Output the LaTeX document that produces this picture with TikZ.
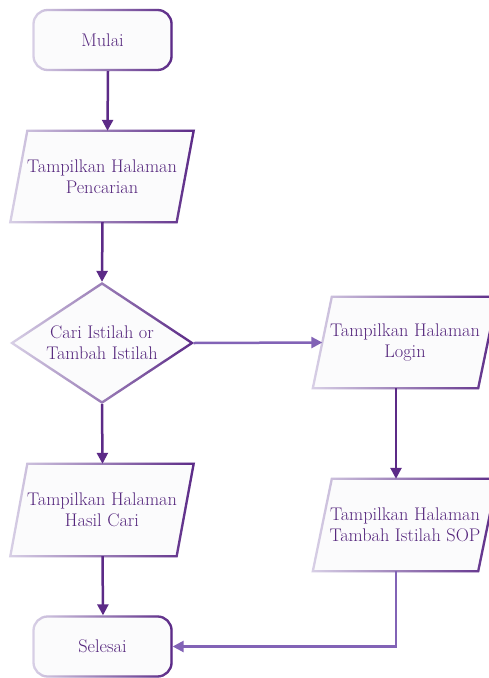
\documentclass[tikz,border=0pt]{standalone}
\usepackage{fontspec}
\usetikzlibrary{shapes.geometric,arrows.meta,fadings,calc,backgrounds}
\definecolor{dpur}{HTML}{5C2A87}
\definecolor{mpur}{HTML}{8263B6}
\definecolor{tpur}{HTML}{55267D}
\definecolor{lav}{HTML}{D8D0E6}
\definecolor{fillc}{HTML}{FBFBFC}
\tikzfading[name=fadeR, left color=transparent!100, right color=transparent!0]
\tikzset{
  txt/.style={font=\fontsize{18.3}{21}\selectfont, align=center, text=tpur},
  gbox/.style={fill=fillc, draw=lav, line width=2.3pt, line join=miter,
    postaction={draw=dpur, line width=2.3pt, path fading=fadeR}},
  term/.style={gbox, txt, rectangle, rounded corners=14pt, minimum width=138pt, minimum height=60pt, inner sep=0pt},
  io/.style={txt, rectangle, minimum width=183pt, minimum height=91pt, inner sep=0pt},
  dec/.style={gbox, diamond, aspect=1.508, minimum width=181pt, minimum height=120pt, inner sep=0pt},
  arr/.style={line width=2.5pt, dpur, -{Triangle[width=11pt,length=11pt]}},
  arrm/.style={line width=2.5pt, mpur, -{Triangle[width=11pt,length=11pt]}}
}
\newcommand{\paral}[2]{%
  \path[gbox] (#1.south west) -- ([xshift=-#2pt]#1.south east) -- (#1.north east)
    -- ([xshift=#2pt]#1.north west) -- cycle;}
\begin{document}
\begin{tikzpicture}[x=1pt,y=-1pt]
\useasboundingbox (0,0) rectangle (488,678);
\node[term] (mulai) at (102.5,40) {Mulai};
\node[io] (p1) at (102,176.5) {Tampilkan Halaman\\Pencarian};
\node[dec] (dia) at (102,343) {};
\node[txt] (diat) at (102,343) {Cari Istilah or\\Tambah Istilah};
\node[io, minimum width=184pt] (login) at (405,342.5) {Tampilkan Halaman\\Login};
\node[io, minimum height=92pt] (hasil) at (102,510) {Tampilkan Halaman\\Hasil Cari};
\node[io, minimum width=184pt, minimum height=92pt] (tambah) at (405,525) {Tampilkan Halaman\\Tambah Istilah SOP};
\node[term] (selesai) at (102.5,646.5) {Selesai};
\begin{scope}[on background layer]
  \paral{p1}{17}
  \paral{login}{19}
  \paral{hasil}{17}
  \paral{tambah}{19}
\end{scope}

\draw[arr] ([xshift=5.5pt]mulai.south) -- ([xshift=5.5pt]p1.north);
\draw[arr] ([xshift=0.5pt]p1.south) -- (dia.north);
\draw[arrm] (dia.east) -- ([xshift=9.5pt]login.west);
\draw[arr] (dia.south) -- ([xshift=0.5pt]hasil.north);
\draw[arr] ([xshift=-9pt]login.south) -- ([xshift=-9pt]tambah.north);
\draw[arr] ([xshift=0.5pt]hasil.south) -- ([xshift=0.5pt]selesai.north);
\draw[arrm] ([xshift=-9pt]tambah.south) |- (selesai.east);
\end{tikzpicture}
\end{document}
